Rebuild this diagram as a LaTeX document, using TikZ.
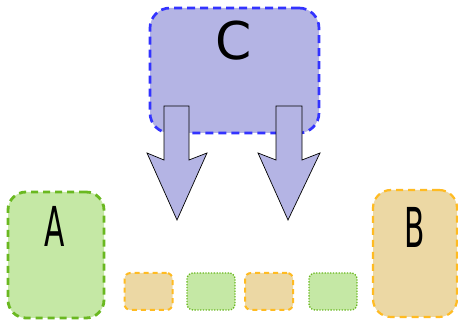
\documentclass[tikz,border=0pt]{standalone}
\usepackage{fontspec}
\setmainfont{DejaVu Sans}
\definecolor{lav}{HTML}{B4B4E4}
\definecolor{lavline}{HTML}{3333FF}
\definecolor{grfill}{HTML}{C5E8A5}
\definecolor{grline}{HTML}{6AB820}
\definecolor{orfill}{HTML}{ECD8A4}
\definecolor{orline}{HTML}{FFBB22}
\tikzset{
  box/.style={rectangle, inner sep=0pt},
  cbox/.style={box, fill=lav, draw=lavline, line width=2.7pt, dash pattern=on 8pt off 5pt, rounded corners=20pt},
  abox/.style={box, fill=grfill, draw=grline, line width=2.8pt, dash pattern=on 7pt off 5pt, rounded corners=18pt},
  bbox/.style={box, fill=orfill, draw=orline, line width=2.2pt, dash pattern=on 7pt off 5pt, rounded corners=18pt},
  sobox/.style={box, fill=orfill, draw=orline, line width=2pt, dash pattern=on 5pt off 4pt, rounded corners=6pt, minimum width=48pt, minimum height=37pt},
  sgbox/.style={box, fill=grfill, draw=grline, line width=1.3pt, dash pattern=on 1.3pt off 1.5pt, rounded corners=6pt, minimum width=48pt, minimum height=37pt},
  bigarrow/.style={fill=lav, draw=black, line width=0.7pt, line join=miter},
  lbl/.style={inner sep=0pt, font=\fontsize{52}{60}\selectfont},
  narrowlbl/.style={inner sep=0pt, font=\fontsize{55}{60}\selectfont, xscale=0.54},
}
\begin{document}
\begin{tikzpicture}[x=1pt,y=-1pt]
\useasboundingbox (0,0) rectangle (458,320);
\node[cbox, minimum width=169pt, minimum height=125pt] (C) at (234.5,70.5) {};
\node[lbl] (Ct) at (234,41) {C};
\node[abox, minimum width=96pt, minimum height=126pt] (A) at (56,255) {};
\node[narrowlbl] (At) at (55,226) {A};
\node[bbox, minimum width=84pt, minimum height=127pt] (B) at (415,253.5) {};
\node[narrowlbl] (Bt) at (415,227) {B};
\node[sobox] (s1) at (148.5,291.5) {};
\node[sgbox] (s2) at (211,291.5) {};
\node[sobox] (s3) at (269,291.5) {};
\node[sgbox] (s4) at (333,291.5) {};
\draw[bigarrow] (164,106) -- (189,106) -- (189,160) -- (207,153) -- (177,220) -- (147,153) -- (164,160) -- cycle;
\draw[bigarrow] (276,106) -- (302,106) -- (302,160) -- (320,153) -- (288,220) -- (258,153) -- (276,160) -- cycle;
\end{tikzpicture}
\end{document}
